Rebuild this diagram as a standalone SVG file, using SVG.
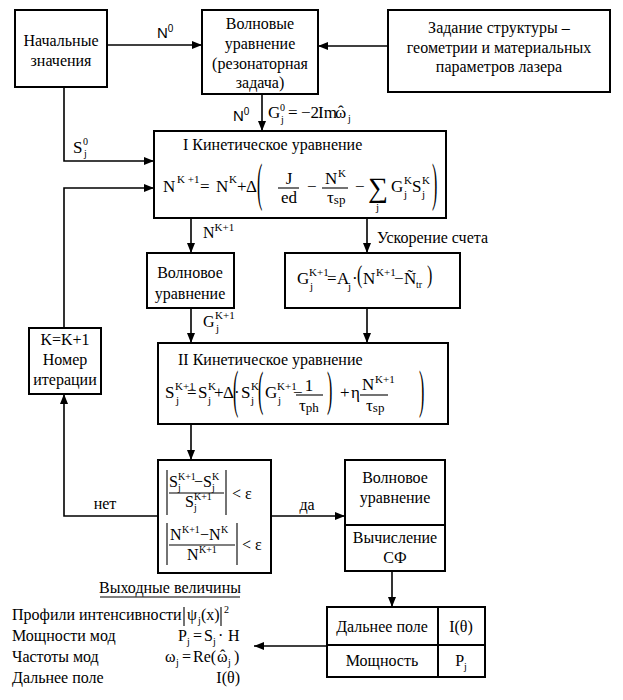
<svg xmlns="http://www.w3.org/2000/svg" width="623" height="700" viewBox="0 0 623 700">
<defs>
<marker id="ar" markerUnits="userSpaceOnUse" markerWidth="10" markerHeight="8" refX="10" refY="4" orient="auto">
<path d="M0,0 L10,4 L0,8 z" fill="#000"/>
</marker>
</defs>
<rect width="623" height="700" fill="#fff"/>

<g id="connectors" fill="none" stroke="#000" stroke-width="1.6">
<line x1="107" y1="45" x2="202" y2="45" marker-end="url(#ar)"/>
<line x1="388" y1="46" x2="318" y2="46" marker-end="url(#ar)"/>
<line x1="262" y1="94" x2="262" y2="131" marker-end="url(#ar)"/>
<path d="M64,87 V161 H154" marker-end="url(#ar)"/>
<path d="M64,328 V188 H154" marker-end="url(#ar)"/>
<line x1="191" y1="218" x2="191" y2="253" marker-end="url(#ar)"/>
<line x1="367" y1="218" x2="367" y2="253" marker-end="url(#ar)"/>
<line x1="191" y1="308" x2="191" y2="343" marker-end="url(#ar)"/>
<line x1="367" y1="308" x2="367" y2="343" marker-end="url(#ar)"/>
<line x1="191" y1="424" x2="191" y2="460" marker-end="url(#ar)"/>
<path d="M158,516 H64 V394" marker-end="url(#ar)"/>
<line x1="271" y1="516" x2="345" y2="516" marker-end="url(#ar)"/>
<line x1="392" y1="571" x2="392" y2="607" marker-end="url(#ar)"/>
<line x1="327" y1="646" x2="254" y2="646" marker-end="url(#ar)"/>
</g>
<g id="connector-labels" fill="#000">
<text font-family="Liberation Sans" font-size="15" x="157" y="38">N<tspan font-size="10" dy="-6">0</tspan></text>
<text font-family="Liberation Sans" font-size="15" x="233" y="121">N<tspan font-size="10" dy="-6">0</tspan></text>
<text font-family="Liberation Serif" font-size="17" x="268" y="118">G</text>
<text font-family="Liberation Serif" font-size="10" x="280" y="111">0</text>
<text font-family="Liberation Serif" font-size="10" x="281" y="123">j</text>
<text font-family="Liberation Serif" font-size="17" x="288" y="118">=</text>
<text font-family="Liberation Serif" font-size="17" x="301" y="118">−2</text>
<text font-family="Liberation Serif" font-size="17" x="318" y="118">Im</text>
<text font-family="Liberation Serif" font-size="17" x="335" y="118">ω</text>
<text font-family="Liberation Serif" font-size="17" x="338" y="117">ˆ</text>
<text font-family="Liberation Serif" font-size="10" x="348" y="122">j</text>
<text font-family="Liberation Serif" font-size="17" x="73" y="153">S</text>
<text font-family="Liberation Serif" font-size="10" x="83" y="145">0</text>
<text font-family="Liberation Serif" font-size="10" x="84" y="157">j</text>
<text font-family="Liberation Serif" font-size="16" x="203" y="238">N<tspan font-size="11" dy="-7">K+1</tspan></text>
<text font-family="Liberation Serif" font-size="16" x="377" y="243">Ускорение счета</text>
<text font-family="Liberation Serif" font-size="16" x="203" y="327">G</text>
<text font-family="Liberation Serif" font-size="11" x="215" y="319">K+1</text>
<text font-family="Liberation Serif" font-size="11" x="216" y="332">j</text>
<text font-family="Liberation Serif" font-size="16" text-anchor="middle" x="105" y="509">нет</text>
<text font-family="Liberation Serif" font-size="16" text-anchor="middle" x="307" y="510">да</text>
</g>

<g id="n-init">
<rect x="15" y="10" width="92" height="77" fill="#fff" stroke="#000" stroke-width="2"/>
<text font-family="Liberation Serif" font-size="16" text-anchor="middle" x="61" y="46">Начальные</text>
<text font-family="Liberation Serif" font-size="16" text-anchor="middle" x="61" y="66">значения</text>
</g>

<g id="n-wave0">
<rect x="202" y="10" width="116" height="84" fill="#fff" stroke="#000" stroke-width="2"/>
<text font-family="Liberation Serif" font-size="16" text-anchor="middle" x="260" y="29">Волновые</text>
<text font-family="Liberation Serif" font-size="16" text-anchor="middle" x="260" y="49">уравнение</text>
<text font-family="Liberation Serif" font-size="16" text-anchor="middle" x="260" y="69">(резонаторная</text>
<text font-family="Liberation Serif" font-size="16" text-anchor="middle" x="260" y="88">задача)</text>
</g>

<g id="n-struct">
<rect x="388" y="10" width="222" height="82" fill="#fff" stroke="#000" stroke-width="2"/>
<text font-family="Liberation Serif" font-size="16" text-anchor="middle" x="499" y="33">Задание  структуры –</text>
<text font-family="Liberation Serif" font-size="16" text-anchor="middle" x="499" y="53">геометрии и  материальных</text>
<text font-family="Liberation Serif" font-size="16" text-anchor="middle" x="499" y="72">параметров лазера</text>
</g>

<g id="n-kin1">
<rect x="154" y="131" width="292" height="87" fill="#fff" stroke="#000" stroke-width="2"/>
<text font-family="Liberation Serif" font-size="16" x="183" y="150">I Кинетическое уравнение</text>
<text font-family="Liberation Serif" font-size="17" x="163" y="192">N</text>
<text font-family="Liberation Serif" font-size="11" x="177" y="183">K +1</text>
<text font-family="Liberation Serif" font-size="17" x="200" y="192">=</text>
<text font-family="Liberation Serif" font-size="17" x="216" y="192">N</text>
<text font-family="Liberation Serif" font-size="11" x="229" y="183">K</text>
<text font-family="Liberation Serif" font-size="17" x="237" y="192">+</text>
<text font-family="Liberation Serif" font-size="17" x="246" y="192">Δ</text>
<text font-family="Liberation Serif" font-size="16" transform="translate(257,200) scale(1,3.3)">(</text>
<text font-family="Liberation Serif" font-size="17" text-anchor="middle" x="289" y="184">J</text>
<line x1="278" y1="188" x2="299" y2="188" stroke="#000" stroke-width="1.1"/>
<text font-family="Liberation Serif" font-size="17" text-anchor="middle" x="289" y="203">ed</text>
<text font-family="Liberation Serif" font-size="17" x="307" y="192">−</text>
<text font-family="Liberation Serif" font-size="17" x="325" y="184">N</text>
<text font-family="Liberation Serif" font-size="11" x="338" y="177">K</text>
<line x1="322" y1="188" x2="348" y2="188" stroke="#000" stroke-width="1.1"/>
<text font-family="Liberation Serif" font-size="17" x="327" y="203">τ<tspan font-size="13" dy="1">sp</tspan></text>
<text font-family="Liberation Serif" font-size="17" x="355" y="192">−</text>
<text font-family="Liberation Serif" font-size="28" x="368" y="197">∑</text>
<text font-family="Liberation Serif" font-size="11" x="376" y="211">j</text>
<text font-family="Liberation Serif" font-size="17" x="391" y="192">G</text>
<text font-family="Liberation Serif" font-size="11" x="404" y="184">K</text>
<text font-family="Liberation Serif" font-size="11" x="404" y="198">j</text>
<text font-family="Liberation Serif" font-size="17" x="412" y="192">S</text>
<text font-family="Liberation Serif" font-size="11" x="422" y="184">K</text>
<text font-family="Liberation Serif" font-size="11" x="422" y="198">j</text>
<text font-family="Liberation Serif" font-size="16" transform="translate(432,200) scale(1,3.3)">)</text>
</g>

<g id="n-wave1">
<rect x="147" y="253" width="87" height="55" fill="#fff" stroke="#000" stroke-width="2"/>
<text font-family="Liberation Serif" font-size="16" text-anchor="middle" x="190" y="278">Волновое</text>
<text font-family="Liberation Serif" font-size="16" text-anchor="middle" x="190" y="299">уравнение</text>
</g>

<g id="n-gain">
<rect x="285" y="253" width="175" height="55" fill="#fff" stroke="#000" stroke-width="2"/>
<text font-family="Liberation Serif" font-size="17" x="297" y="284">G</text>
<text font-family="Liberation Serif" font-size="11" x="309" y="276">K+1</text>
<text font-family="Liberation Serif" font-size="11" x="310" y="290">j</text>
<text font-family="Liberation Serif" font-size="17" x="327" y="284">=</text>
<text font-family="Liberation Serif" font-size="17" x="337" y="284">A</text>
<text font-family="Liberation Serif" font-size="11" x="348" y="290">j</text>
<text font-family="Liberation Serif" font-size="17" x="352" y="284">·</text>
<text font-family="Liberation Serif" font-size="16" transform="translate(357,283) scale(1,1.6)">(</text>
<text font-family="Liberation Serif" font-size="17" x="363" y="284">N</text>
<text font-family="Liberation Serif" font-size="11" x="376" y="276">K+1</text>
<text font-family="Liberation Serif" font-size="17" x="394" y="284">−</text>
<text font-family="Liberation Serif" font-size="17" x="404" y="284">Ñ</text>
<text font-family="Liberation Serif" font-size="10" x="416" y="288">tr</text>
<text font-family="Liberation Serif" font-size="16" transform="translate(427,283) scale(1,1.6)">)</text>
</g>

<g id="n-kin2">
<rect x="158" y="343" width="290" height="81" fill="#fff" stroke="#000" stroke-width="2"/>
<text font-family="Liberation Serif" font-size="16" x="178" y="365">II Кинетическое уравнение</text>
<text font-family="Liberation Serif" font-size="17" x="165" y="398">S</text>
<text font-family="Liberation Serif" font-size="11" x="175" y="390">K+1</text>
<text font-family="Liberation Serif" font-size="11" x="176" y="404">j</text>
<text font-family="Liberation Serif" font-size="17" x="187" y="398">=</text>
<text font-family="Liberation Serif" font-size="17" x="198" y="398">S</text>
<text font-family="Liberation Serif" font-size="11" x="208" y="390">K</text>
<text font-family="Liberation Serif" font-size="11" x="208" y="404">j</text>
<text font-family="Liberation Serif" font-size="17" x="214" y="398">+</text>
<text font-family="Liberation Serif" font-size="17" x="223" y="398">Δ·</text>
<text font-family="Liberation Serif" font-size="16" transform="translate(233,407) scale(1,3.3)">(</text>
<text font-family="Liberation Serif" font-size="17" x="241" y="398">S</text>
<text font-family="Liberation Serif" font-size="11" x="251" y="390">K</text>
<text font-family="Liberation Serif" font-size="11" x="251" y="404">j</text>
<text font-family="Liberation Serif" font-size="16" transform="translate(258,405) scale(1,3.0)">(</text>
<text font-family="Liberation Serif" font-size="17" x="265" y="398">G</text>
<text font-family="Liberation Serif" font-size="11" x="277" y="390">K+1</text>
<text font-family="Liberation Serif" font-size="11" x="278" y="404">j</text>
<text font-family="Liberation Serif" font-size="17" x="293" y="398">−</text>
<text font-family="Liberation Serif" font-size="17" text-anchor="middle" x="309" y="391">1</text>
<line x1="296" y1="395" x2="323" y2="395" stroke="#000" stroke-width="1.1"/>
<text font-family="Liberation Serif" font-size="17" x="299" y="411">τ<tspan font-size="13" dy="1">ph</tspan></text>
<text font-family="Liberation Serif" font-size="16" transform="translate(327,405) scale(1,3.0)">)</text>
<text font-family="Liberation Serif" font-size="17" x="340" y="398">+</text>
<text font-family="Liberation Serif" font-size="17" x="351" y="398">η</text>
<text font-family="Liberation Serif" font-size="17" x="362" y="390">N</text>
<text font-family="Liberation Serif" font-size="11" x="375" y="383">K+1</text>
<line x1="360" y1="395" x2="388" y2="395" stroke="#000" stroke-width="1.1"/>
<text font-family="Liberation Serif" font-size="17" x="366" y="411">τ<tspan font-size="13" dy="1">sp</tspan></text>
<text font-family="Liberation Serif" font-size="16" transform="translate(419,407) scale(1,3.3)">)</text>
</g>

<g id="n-iter">
<rect x="29" y="328" width="72" height="66" fill="#fff" stroke="#000" stroke-width="2"/>
<text font-family="Liberation Serif" font-size="16" text-anchor="middle" x="65" y="345">K=K+1</text>
<text font-family="Liberation Serif" font-size="16" text-anchor="middle" x="65" y="365">Номер</text>
<text font-family="Liberation Serif" font-size="16" text-anchor="middle" x="65" y="385">итерации</text>
</g>

<g id="n-conv">
<rect x="158" y="460" width="113" height="113" fill="#fff" stroke="#000" stroke-width="2"/>
<g stroke="#000" stroke-width="1.1">
<line x1="167" y1="470" x2="167" y2="515"/>
<line x1="226" y1="470" x2="226" y2="515"/>
<line x1="169" y1="493" x2="224" y2="493"/>
<line x1="167" y1="523" x2="167" y2="565"/>
<line x1="237" y1="523" x2="237" y2="565"/>
<line x1="169" y1="545" x2="235" y2="545"/>
</g>
<text font-family="Liberation Serif" font-size="16" x="169" y="487">S</text>
<text font-family="Liberation Serif" font-size="10" x="178" y="480">K+1</text>
<text font-family="Liberation Serif" font-size="10" x="178" y="491">j</text>
<text font-family="Liberation Serif" font-size="16" x="194" y="487">−</text>
<text font-family="Liberation Serif" font-size="16" x="203" y="487">S</text>
<text font-family="Liberation Serif" font-size="10" x="212" y="480">K</text>
<text font-family="Liberation Serif" font-size="10" x="212" y="491">j</text>
<text font-family="Liberation Serif" font-size="16" x="185" y="507">S</text>
<text font-family="Liberation Serif" font-size="10" x="194" y="500">K+1</text>
<text font-family="Liberation Serif" font-size="10" x="194" y="511">j</text>
<text font-family="Liberation Serif" font-size="16" x="232" y="499">&lt; ε</text>
<text font-family="Liberation Serif" font-size="16" x="170" y="540">N</text>
<text font-family="Liberation Serif" font-size="10" x="182" y="533">K+1</text>
<text font-family="Liberation Serif" font-size="16" x="200" y="540">−</text>
<text font-family="Liberation Serif" font-size="16" x="209" y="540">N</text>
<text font-family="Liberation Serif" font-size="10" x="221" y="533">K</text>
<text font-family="Liberation Serif" font-size="16" x="187" y="560">N</text>
<text font-family="Liberation Serif" font-size="10" x="199" y="553">K+1</text>
<text font-family="Liberation Serif" font-size="16" x="242" y="550">&lt; ε</text>
</g>

<g id="n-wave2">
<rect x="345" y="460" width="100" height="111" fill="#fff" stroke="#000" stroke-width="2"/>
<line x1="345" y1="525" x2="445" y2="525" stroke="#000" stroke-width="2"/>
<text font-family="Liberation Serif" font-size="16" text-anchor="middle" x="395" y="483">Волновое</text>
<text font-family="Liberation Serif" font-size="16" text-anchor="middle" x="395" y="503">уравнение</text>
<text font-family="Liberation Serif" font-size="16" text-anchor="middle" x="395" y="543">Вычисление</text>
<text font-family="Liberation Serif" font-size="16" text-anchor="middle" x="395" y="563">СФ</text>
</g>

<g id="n-table">
<rect x="327" y="607" width="158" height="70" fill="#fff" stroke="#000" stroke-width="2"/>
<line x1="327" y1="645" x2="485" y2="645" stroke="#000" stroke-width="2"/>
<line x1="438" y1="607" x2="438" y2="677" stroke="#000" stroke-width="2"/>
<text font-family="Liberation Serif" font-size="16" text-anchor="middle" x="382" y="632">Дальнее поле</text>
<text font-family="Liberation Serif" font-size="16" text-anchor="middle" x="461" y="632">I(θ)</text>
<text font-family="Liberation Serif" font-size="16" text-anchor="middle" x="382" y="666">Мощность</text>
<text font-family="Liberation Serif" font-size="16" text-anchor="middle" x="461" y="666">P<tspan font-size="10" dy="4">j</tspan></text>
</g>

<g id="n-output">
<text font-family="Liberation Serif" font-size="16" text-anchor="middle" x="170" y="593">Выходные величины</text>
<line x1="100" y1="597" x2="240" y2="597" stroke="#000" stroke-width="1.1"/>
<text font-family="Liberation Serif" font-size="16" x="12" y="620">Профили интенсивности</text>
<text font-family="Liberation Serif" font-size="16" x="12" y="641">Мощности мод</text>
<text font-family="Liberation Serif" font-size="16" x="12" y="662">Частоты мод</text>
<text font-family="Liberation Serif" font-size="16" x="12" y="683">Дальнее поле</text>
<line x1="184" y1="607" x2="184" y2="626" stroke="#000" stroke-width="1.1"/>
<text font-family="Liberation Serif" font-size="16" x="187" y="620">ψ</text>
<text font-family="Liberation Serif" font-size="10" x="198" y="624">j</text>
<text font-family="Liberation Serif" font-size="16" x="201" y="620">(x)</text>
<line x1="221" y1="607" x2="221" y2="626" stroke="#000" stroke-width="1.1"/>
<text font-family="Liberation Serif" font-size="10" x="224" y="613">2</text>
<text font-family="Liberation Serif" font-size="16" x="178" y="641">P</text>
<text font-family="Liberation Serif" font-size="10" x="187" y="645">j</text>
<text font-family="Liberation Serif" font-size="16" x="193" y="641">=</text>
<text font-family="Liberation Serif" font-size="16" x="204" y="641">S</text>
<text font-family="Liberation Serif" font-size="10" x="213" y="645">j</text>
<text font-family="Liberation Serif" font-size="16" x="218" y="641">·</text>
<text font-family="Liberation Serif" font-size="16" x="228" y="641">H</text>
<text font-family="Liberation Serif" font-size="16" x="165" y="662">ω</text>
<text font-family="Liberation Serif" font-size="10" x="176" y="666">j</text>
<text font-family="Liberation Serif" font-size="16" x="182" y="662">=</text>
<text font-family="Liberation Serif" font-size="16" x="193" y="662">Re(</text>
<text font-family="Liberation Serif" font-size="16" x="217" y="662">ω</text>
<text font-family="Liberation Serif" font-size="16" x="220" y="661">ˆ</text>
<text font-family="Liberation Serif" font-size="10" x="228" y="666">j</text>
<text font-family="Liberation Serif" font-size="16" x="234" y="662">)</text>
<text font-family="Liberation Serif" font-size="16" text-anchor="end" x="240" y="683">I(θ)</text>
</g>
</svg>
